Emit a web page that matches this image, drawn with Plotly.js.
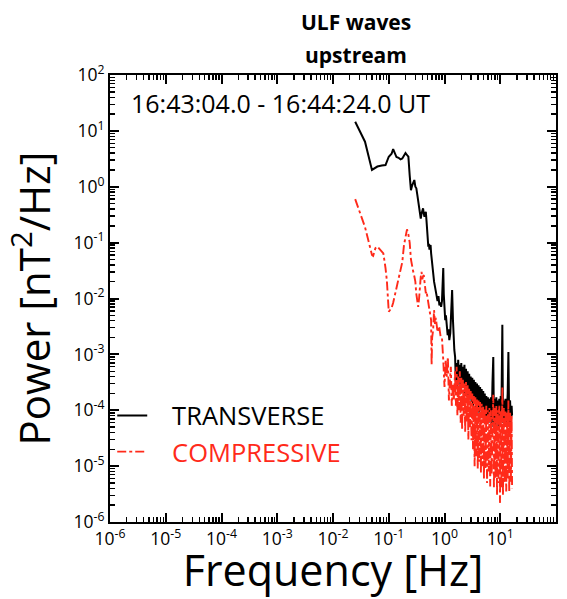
<!DOCTYPE html>
<html>
<head>
<meta charset="utf-8">
<script src="https://cdn.plot.ly/plotly-3.0.1.min.js"></script>
<style>html,body{margin:0;padding:0;background:#fff;}#chart{width:567px;height:599px;}</style>
</head>
<body>
<div id="chart"></div>
<script>
// Transverse spectrum (frequency [Hz], power [nT^2/Hz])
var transFreq = [0.025,0.0375,0.05,0.0625,0.075,0.0875,0.1,0.1125,0.12,0.1375,0.15,0.1625,0.175,0.1875,0.2,0.2125,0.225,0.2375,0.25,0.2625,0.275,0.2875,0.3,0.3125,0.325,0.3375,0.35,0.3625,0.375,0.3875,0.4,0.4125,0.425,0.4375,0.45,0.4625,0.475,0.4875,0.5,0.5125,0.525,0.5375,0.55,0.5625,0.575,0.5875,0.6,0.6125,0.625,0.65,0.675,0.7,0.725,0.75,0.78,0.81,0.84,0.87,0.9,0.93,0.95,0.97,1.0,1.03,1.06,1.1,1.14,1.18,1.22,1.27,1.32,1.37,1.42,1.47,1.5,
1.55,1.6,1.65,1.7,1.76,1.82,1.88,1.95,2.0,2.07,2.14,2.2,2.28,2.35,2.43,2.5,2.6,2.68,2.77,2.86,2.95,3.05,3.15,3.25,3.36,3.47,3.58,3.7,3.82,3.95,4.08,4.2,4.35,4.5,4.64,4.8,4.95,5.1,5.27,5.45,5.62,5.8,6.0,6.2,6.4,6.6,6.8,7.0,7.25,7.5,7.7,7.95,8.2,8.5,8.75,9.0,9.3,9.6,9.9,10.2,10.5,10.9,11.2,11.6,12.0,12.4,12.8,13.2,13.6,14.0,14.5,15.0,15.5,16.0,16.3];
var transPower = [14.6,6.4,2.0,2.3,2.4,2.45,3.45,3.9,4.7,3.4,3.3,3.1,3.2,3.6,4.0,3.7,3.45,1.6,0.87,1.05,1.25,1.32,1.0,0.94,0.72,0.55,0.44,0.33,0.27,0.33,0.38,0.41,0.33,0.29,0.32,0.357,0.25,0.15,0.1,0.0845,0.095,0.075,0.088,0.0906,0.065,0.05,0.04,0.0347,0.028,0.02,0.0163,0.013,0.0125,0.009,0.011,0.0075,0.0085,0.0071,0.009,0.02,0.035,0.012,0.006,0.0041,0.005,0.0035,0.0022,0.0028,0.0018,0.0024,0.005,0.0142,0.004,0.0015,0.0012,
9e-4,3e-4,7e-4,2.5e-4,8e-4,3.5e-4,6.5e-4,2e-4,7e-4,2.5e-4,6e-4,3e-4,6.5e-4,1.8e-4,5.5e-4,2.2e-4,5e-4,1.5e-4,4.5e-4,2e-4,4e-4,1.4e-4,3.8e-4,1.2e-4,3.5e-4,1.5e-4,3.2e-4,1e-4,3e-4,1.1e-4,2.8e-4,9e-5,2.6e-4,1e-4,2.4e-4,8e-5,2.2e-4,9e-5,2e-4,7e-5,1.8e-4,8e-5,1.7e-4,6e-5,1.6e-4,7e-5,1.7e-4,5e-5,3e-4,9e-4,6e-5,1.6e-4,5e-5,1.7e-4,6e-5,1.5e-4,5e-5,1.6e-4,6e-5,1.8e-4,1e-4,3.4e-3,6e-5,1.5e-4,5e-5,1.6e-4,6e-5,1.4e-4,2e-4,1.1e-3,5e-5,1.5e-4,6e-5,1.2e-4,8e-5];

// Compressive spectrum
var compFreq = [0.025,0.0325,0.0375,0.043,0.05,0.0525,0.0575,0.0625,0.07,0.08,0.0875,0.0925,0.1,0.1125,0.12,0.1375,0.15,0.1625,0.175,0.1875,0.2,0.2125,0.225,0.2375,0.25,0.2625,0.275,0.2875,0.3,0.3125,0.325,0.3375,0.35,0.3625,0.375,0.3875,0.4,0.4125,0.425,0.4375,0.45,0.4625,0.475,0.5,0.525,0.55,0.5625,0.575,0.5875,0.6,0.625,0.65,0.675,0.7,0.75,0.8,0.85,0.9,0.95,1.0,1.05,1.1,1.15,1.2,1.24,1.3,1.35,1.42,1.47,
1.55,1.6,1.65,1.7,1.76,1.82,1.88,1.95,2.0,2.07,2.14,2.2,2.28,2.35,2.43,2.5,2.6,2.68,2.77,2.86,2.95,3.05,3.15,3.25,3.36,3.47,3.58,3.7,3.82,3.95,4.08,4.2,4.35,4.5,4.64,4.8,4.95,5.1,5.27,5.45,5.62,5.8,6.0,6.2,6.4,6.6,6.8,7.0,7.25,7.5,7.7,7.95,8.2,8.5,8.75,9.0,9.3,9.6,9.9,10.2,10.5,10.9,11.2,11.6,12.0,12.4,12.8,13.2,13.6,14.0,14.5,15.0,15.5,16.0,16.3];
var compPower = [0.6,0.29,0.19,0.11,0.06,0.0577,0.079,0.085,0.075,0.064,0.035,0.021,0.0058,0.0068,0.0084,0.015,0.022,0.034,0.045,0.09,0.137,0.173,0.14,0.1,0.05,0.035,0.03,0.025,0.02,0.012,0.009,0.0071,0.01,0.018,0.0245,0.03,0.022,0.025,0.0263,0.02,0.015,0.0124,0.0135,0.01,0.007,0.0054,0.0045,0.0041,0.00065,0.002,0.0027,0.0062,0.0035,0.0045,0.0025,0.0032,0.0021,0.002,0.00079,0.00026,0.0008,0.0004,0.0009,0.00015,0.0003,0.0006,0.00012,0.0003,0.00015,
5e-4,1.2e-4,6e-4,8e-5,4e-4,1e-4,5e-4,6e-5,4e-4,4.4e-5,3.5e-4,8e-5,3e-4,4e-5,3.2e-4,6e-5,2.8e-4,3e-5,2.5e-4,5e-5,2.2e-4,2.9e-5,2e-4,2e-5,1.8e-4,1e-5,1.7e-4,1.5e-5,1.6e-4,9e-6,1.5e-4,1.2e-5,1.4e-4,7.5e-6,1.3e-4,1e-5,1.2e-4,6e-6,1.1e-4,9e-6,1.2e-4,5e-6,1e-4,8e-6,1.1e-4,4.3e-6,1e-4,7e-6,1.3e-4,1.9e-4,4e-6,1.1e-4,6e-6,1.2e-4,3e-6,1e-4,5e-6,1.2e-4,2.2e-6,1e-4,4e-6,2.6e-4,3e-6,1.1e-4,5e-6,1e-4,3.5e-6,9e-5,6e-6,1.5e-4,3.4e-6,9e-5,5e-6,8e-5,4e-6];

// Axis tick labels (same decades on both axes)
var decadeVals = [1e-6,1e-5,1e-4,1e-3,1e-2,1e-1,1,10,100];
var decadeText = ['10<sup>-6</sup>','10<sup>-5</sup>','10<sup>-4</sup>','10<sup>-3</sup>','10<sup>-2</sup>','10<sup>-1</sup>','10<sup>0</sup>','10<sup>1</sup>','10<sup>2</sup>'];

var FONT = 'Open Sans, sans-serif';

function axis() {
  return {
    type: 'log',
    range: [-6, 2],
    tickmode: 'array',
    tickvals: decadeVals,
    ticktext: decadeText,
    ticks: 'inside',
    ticklen: 9,
    tickwidth: 2,
    tickcolor: '#000',
    showline: true,
    linewidth: 2,
    linecolor: '#000',
    mirror: 'allticks',
    showgrid: false,
    zeroline: false,
    tickfont: {family: FONT, size: 17.5, color: '#000'},
    minor: {dtick: 'D1', ticks: 'inside', ticklen: 5, tickwidth: 1.4, tickcolor: '#000', showgrid: false}
  };
}

var xaxis = axis();
xaxis.title = {text: 'Frequency [Hz]', font: {family: FONT, size: 43, color: '#000'}, standoff: 4};
var yaxis = axis();

var traces = [
  {x: transFreq, y: transPower, type: 'scatter', mode: 'lines', name: '\u00a0\u00a0\u00a0TRANSVERSE',
   line: {color: '#000000', width: 2}},
  {x: compFreq, y: compPower, type: 'scatter', mode: 'lines', name: '\u00a0\u00a0\u00a0<span style="color:#ff2a1a">COMPRESSIVE</span>',
   line: {color: '#ff2a1a', width: 1.9, dash: 'dashdot'}}
];

var layout = {
  width: 567, height: 599,
  margin: {l: 110, r: 11, t: 75, b: 77, pad: 0},
  paper_bgcolor: '#fff', plot_bgcolor: '#fff',
  font: {family: FONT, color: '#000'},
  xaxis: xaxis,
  yaxis: yaxis,
  showlegend: true,
  legend: {x: 0.005, y: 0.29, xanchor: 'left', yanchor: 'top', bgcolor: 'rgba(0,0,0,0)', borderwidth: 0,
           font: {family: FONT, size: 25.5, color: '#000'}, tracegroupgap: 0},
  annotations: [
    {xref: 'paper', yref: 'paper', x: -0.175, y: 0.5, xanchor: 'center', yanchor: 'middle', showarrow: false,
     textangle: -90, text: 'Power [nT<sup>2</sup>/Hz]', font: {family: FONT, size: 42, color: '#000'}},
    {xref: 'paper', yref: 'paper', x: 0.552, y: 1.119, xanchor: 'center', yanchor: 'middle', showarrow: false,
     text: '<b>ULF waves</b>', font: {family: FONT, size: 21, color: '#000'}},
    {xref: 'paper', yref: 'paper', x: 0.552, y: 1.045, xanchor: 'center', yanchor: 'middle', showarrow: false,
     text: '<b>upstream</b>', font: {family: FONT, size: 21, color: '#000'}},
    {xref: 'paper', yref: 'paper', x: 0.043, y: 0.937, xanchor: 'left', yanchor: 'middle', showarrow: false,
     text: '16:43:04.0 - 16:44:24.0 UT', font: {family: FONT, size: 25, color: '#000'}}
  ]
};

Plotly.newPlot('chart', traces, layout, {displayModeBar: false, staticPlot: true});
</script>
</body>
</html>
